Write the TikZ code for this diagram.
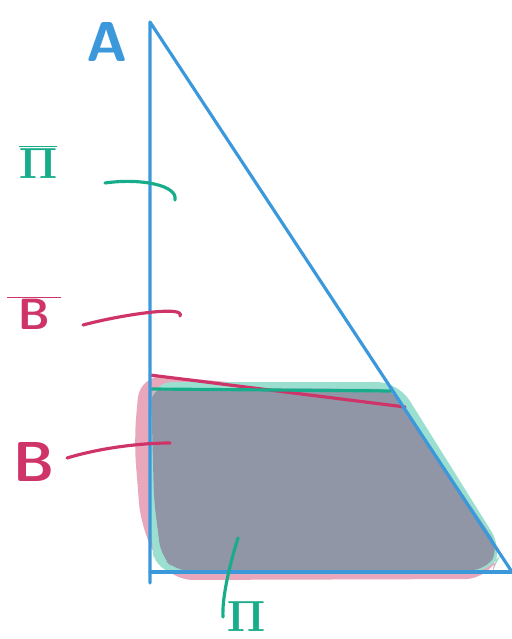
\documentclass[tikz,border=0pt]{standalone}
\usetikzlibrary{calc}
\definecolor{skyblue}{HTML}{3A98DB}
\definecolor{jade}{HTML}{17AD8A}
\definecolor{berry}{HTML}{CF3468}
\definecolor{blush}{HTML}{E9A7BB}
\definecolor{mint}{HTML}{9BDFD0}
\definecolor{slate}{HTML}{9096A6}

\begin{document}
\begin{tikzpicture}[x=0.2mm,y=-0.2mm,line cap=round,line join=round,
   pen/.style={line width=1.8pt},
   letter/.style={font=\fontsize{32}{34}\selectfont\sffamily\bfseries\boldmath}]
  \useasboundingbox (0,0) rectangle (512,639);
  \coordinate (apex) at (150,22);
  \coordinate (foot) at (150,583);
  \coordinate (corner) at (150,572);
  \coordinate (tip) at (512,572);
  % the shaded part
  \fill[blush,rounded corners=14] (140,374) -- (402,398) -- (500,552) -- (490,579)
       -- (168,580) -- (141,528) -- (134,440) -- cycle;
  \fill[mint,rounded corners=12] (151,382) -- (398,382) -- (503,550) -- (492,572)
       -- (156,573) -- (151,540) -- cycle;
  \fill[slate,rounded corners=8] (151,388) -- (392,389) -- (499,548)
       -- (486,570) -- (176,571) -- (161,556) -- (154,500) -- cycle;
  \draw[berry,pen] (150,375) coordinate (rl) -- (405,407) coordinate (rr);
  \draw[jade,pen] (152,389) coordinate (gl) -- (392,391) coordinate (gr);
  % triangle
  \draw[skyblue,pen] (foot) -- (apex) -- (tip);
  \draw[skyblue,pen] (corner) -- (tip);
  % labels
  \node[letter,text=skyblue] (lblA) at (107,42) {A};
  \node[letter,text=jade,font=\fontsize{34}{36}\selectfont\boldmath] (lblPibar) at (38,162) {$\overline{\mathbf{\Pi}}$};
  \node[letter,text=berry] (lblBbar) at (34,313) {$\overline{\mkern4mu\mathsf{B}\mkern4mu}$};
  \node[letter,text=berry] (lblB) at (34,462) {B};
  \node[letter,text=jade,font=\fontsize{25}{27}\selectfont\boldmath,anchor=north,inner sep=0pt]
       (lblPi) at (246,601) {$\mathbf{\Pi}$};
  % ticks
  \coordinate (s1) at (105,183);  \coordinate (t1) at (175,200);
  \coordinate (s2) at (83,325);   \coordinate (t2) at (180,316);
  \coordinate (s3) at (67,458);   \coordinate (t3) at (170,443);
  \coordinate (s4) at (223,617);  \coordinate (t4) at (238,538);
  \draw[jade,pen] (s1) .. controls (140,178) and (178,185) .. (t1);
  \draw[berry,pen] (s2) .. controls (120,315) and (186,305) .. (t2);
  \draw[berry,pen] (s3) .. controls (100,448) and (140,443) .. (t3);
  \draw[jade,pen] (s4) .. controls (222,600) and (228,570) .. (t4);
\end{tikzpicture}
\end{document}
